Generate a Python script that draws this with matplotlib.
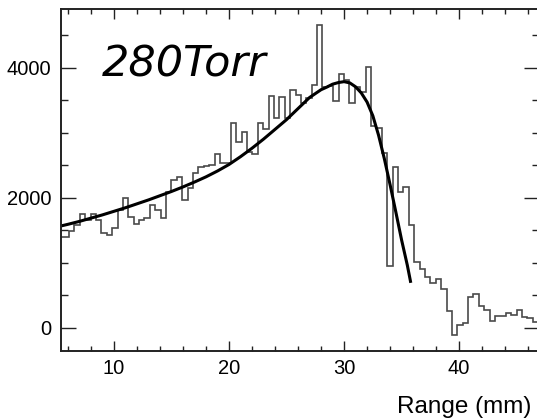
import numpy as np
import matplotlib
matplotlib.use("Agg")
import matplotlib.pyplot as plt
from matplotlib.ticker import MultipleLocator

# ---- data ----
bin_start = 5.15625      # mm, lower edge of first visible bin
bin_width = 0.46875      # mm
counts = [1390, 1400, 1480, 1580, 1750, 1660, 1750, 1660, 1450, 1420,
          1540, 1810, 1990, 1700, 1590, 1660, 1690, 1887, 1810, 1690,
          2090, 2270, 2323, 1970, 2150, 2384, 2470, 2480, 2500, 2670,
          2530, 2540, 3145, 2850, 3005, 2705, 2670, 3145, 3050, 3560,
          3220, 3550, 3220, 3655, 3580, 3455, 3530, 3730, 4655, 3700,
          3715, 3490, 3900, 3810, 3455, 3700, 3620, 4015, 3100, 3070,
          2685, 950, 2470, 2090, 2165, 1580, 1010, 900, 780, 690,
          750, 590, 255, -110, 40, 75, 475, 520, 335, 275,
          105, 180, 180, 225, 200, 275, 165, 150, 85]

fit_x = [5.4, 6, 7, 8, 9, 10, 11, 12, 13, 14, 15, 16, 17, 18, 19, 20,
         21, 22, 23, 24, 25, 26, 27, 28, 28.5, 29, 29.5, 30, 30.5, 31,
         31.5, 32, 32.5, 33, 33.5, 34, 34.5, 35, 35.5, 35.8]
fit_y = [1565, 1590, 1635, 1685, 1735, 1790, 1845, 1905, 1965, 2030,
         2095, 2165, 2240, 2320, 2410, 2510, 2630, 2760, 2900, 3050,
         3200, 3370, 3540, 3660, 3700, 3745, 3770, 3784, 3765, 3705,
         3610, 3470, 3260, 2960, 2600, 2200, 1780, 1350, 960, 690]

label_text = "280Torr"
xlabel = "Range (mm)"

# ---- figure ----
fig = plt.figure(figsize=(5.37, 4.2), dpi=100)
ax = fig.add_axes([0.1136, 0.1643, 0.8892, 0.8136])

edges = bin_start + bin_width * np.arange(len(counts) + 1)
ax.stairs(counts, edges, baseline=None, color="#4a4a4a", linewidth=1.2)
ax.plot(fit_x, fit_y, color="black", linewidth=2.2, solid_capstyle="butt")

ax.set_xlim(5.4, 46.9)
ax.set_ylim(-358, 4897)

ax.xaxis.set_major_locator(MultipleLocator(10))
ax.xaxis.set_minor_locator(MultipleLocator(2))
ax.yaxis.set_major_locator(MultipleLocator(2000))
ax.yaxis.set_minor_locator(MultipleLocator(500))

ax.tick_params(axis="both", which="both", direction="in",
               top=True, right=True, color="#222222")
ax.tick_params(axis="x", which="major", length=7.5, width=1.0, pad=6)
ax.tick_params(axis="x", which="minor", length=3.5, width=1.0)
ax.tick_params(axis="y", which="major", length=11, width=1.0, pad=7)
ax.tick_params(axis="y", which="minor", length=5, width=1.0)

for lbl in ax.get_xticklabels() + ax.get_yticklabels():
    lbl.set_fontfamily("Liberation Sans")
    lbl.set_fontsize(14.5)

for sp in ax.spines.values():
    sp.set_linewidth(1.4)
    sp.set_color("#222222")

ax.text(0.085, 0.802, label_text, transform=ax.transAxes,
        fontsize=31, fontstyle="oblique", family="DejaVu Sans",
        ha="left", va="baseline", color="black")

fig.text(0.99, 0.0167, xlabel, ha="right", va="baseline",
         fontsize=17.5, family="Liberation Sans")

fig.savefig("out.png", dpi=100)
